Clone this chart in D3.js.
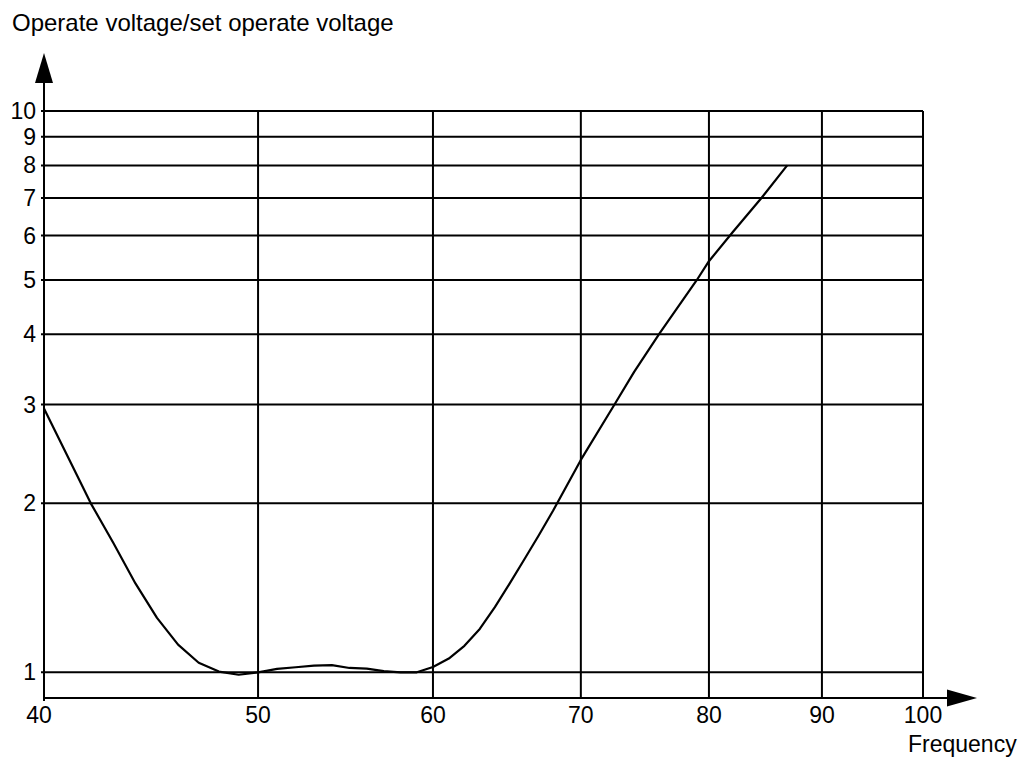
<!DOCTYPE html>
<html>
<head>
<meta charset="utf-8">
<script src="https://d3js.org/d3.v7.min.js"></script>
<style>
  body{margin:0;background:#fff;}
  text{font-family:"Liberation Sans",Arial,sans-serif;fill:#000;}
</style>
</head>
<body>
<div class="canvas"></div>
<script>
//chart values
var freqs = [40, 42, 43, 44, 45, 46, 47, 48, 49, 50, 51, 52, 53, 54, 55, 56, 57, 58, 59, 60,
	61, 62, 63, 64, 65, 66, 67, 68, 70, 72.5, 74, 76, 79, 80, 82, 84.5, 86.8];
var ratios = [2.95, 2.0, 1.70, 1.44, 1.25, 1.12, 1.04, 1.003, 0.99, 1.0, 1.014, 1.021, 1.028, 1.03, 1.018, 1.015, 1.005, 1.0, 1.0, 1.022,
	1.058, 1.115, 1.195, 1.307, 1.44, 1.59, 1.755, 1.94, 2.39, 3.0, 3.43, 4.02, 5.0, 5.40, 6.08, 7.0, 8.0];
var xTicks = [40, 50, 60, 70, 80, 90, 100];
var yTicks = [1, 2, 3, 4, 5, 6, 7, 8, 9, 10];
var xTitle = 'Frequency',
	yTitle = 'Operate voltage/set operate voltage';

var margin = {t:111,r:98,b:61,l:44};
var width = 1021-margin.l-margin.r,
	height = 759-margin.t-margin.b;

var svg = d3.select('.canvas')
	.append('svg')
	.attr('width',1021)
	.attr('height',759);

var plot = svg.append('g')
	.attr('class','plot')
	.attr('transform','translate('+margin.l+','+margin.t+')');

var x = d3.scaleLog().domain([40,100]).range([0,width]);
var y = d3.scaleLog().domain([0.9,10]).range([height,0]);

//grid
plot.selectAll('.hgrid')
	.data(yTicks)
	.enter()
	.append('line')
	.attr('x1',-3)
	.attr('x2',width)
	.attr('y1',function(d){return y(d)})
	.attr('y2',function(d){return y(d)})
	.style('stroke','#000')
	.style('stroke-width',2);

plot.selectAll('.vgrid')
	.data(xTicks.slice(1))
	.enter()
	.append('line')
	.attr('x1',function(d){return x(d)})
	.attr('x2',function(d){return x(d)})
	.attr('y1',y(10))
	.attr('y2',height)
	.style('stroke','#000')
	.style('stroke-width',2);

//axes with arrows
plot.append('line')
	.attr('x1',0).attr('x2',0)
	.attr('y1',height+3).attr('y2',-30)
	.style('stroke','#000').style('stroke-width',2);
plot.append('line')
	.attr('x1',0).attr('x2',width+25)
	.attr('y1',height).attr('y2',height)
	.style('stroke','#000').style('stroke-width',2);

plot.append('path')
	.attr('d','M0,-58 L-9,-28 L9,-28 Z')
	.style('fill','#000');
plot.append('path')
	.attr('d','M'+(width+54)+','+height+' L'+(width+24)+','+(height-8.5)+' L'+(width+24)+','+(height+8.5)+' Z')
	.style('fill','#000');

//tick labels
plot.selectAll('.ylab')
	.data(yTicks)
	.enter()
	.append('text')
	.attr('x',-8)
	.attr('y',function(d){return y(d)+8})
	.attr('text-anchor','end')
	.style('font-size','23px')
	.text(function(d){return d});

plot.selectAll('.xlab')
	.data(xTicks)
	.enter()
	.append('text')
	.attr('x',function(d){return x(d)})
	.attr('dx',function(d,i){return i==0 ? -5 : 0})
	.attr('y',height+25)
	.attr('text-anchor','middle')
	.style('font-size','23px')
	.text(function(d){return d});

svg.append('text')
	.attr('x',12)
	.attr('y',31)
	.style('font-size','24px')
	.text(yTitle);

svg.append('text')
	.attr('x',908)
	.attr('y',752)
	.style('font-size','23px')
	.text(xTitle);

//curve
var line = d3.line()
	.x(function(d,i){return x(freqs[i])})
	.y(function(d){return y(d)});

plot.append('path')
	.datum(ratios)
	.attr('d',line)
	.style('fill','none')
	.style('stroke','#000')
	.style('stroke-width',2.2)
	.style('stroke-linejoin','round');
</script>
</body>
</html>
